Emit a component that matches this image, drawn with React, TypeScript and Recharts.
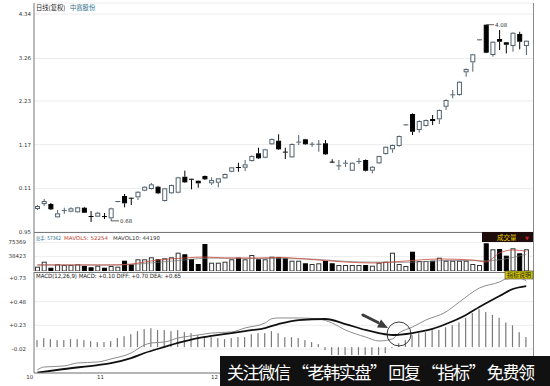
import React from 'react';
import { ComposedChart, Bar, Line, XAxis, YAxis, CartesianGrid, ReferenceDot } from 'recharts';

const FONT = '"DejaVu Sans", "Noto Sans CJK SC", sans-serif';
const CJK = '"Noto Sans CJK SC", sans-serif';

// ---- price candles (74 trading days) ----
const opens = [
  -0.392, -0.271, -0.271, -0.594, -0.44, -0.458, -0.473, -0.361, -0.575, -0.579,
  -0.575, -0.618, -0.22, -0.077, -0.13, -0.108, 0.052, 0.093, 0.149, -0.198,
  -0.011, 0.003, 0.391, 0.33, 0.294, 0.408, 0.231, 0.246, 0.352, 0.512,
  0.615, 0.61, 0.772, 0.959, 0.852, 1.178, 1.265, 0.988, 0.862, 1.221,
  1.299, 1.175, 1.175, 1.202, 0.745, 0.647, 0.712, 0.537, 0.75, 0.797,
  0.537, 0.716, 0.942, 1.056, 1.136, 1.642, 1.913, 1.525, 1.622, 1.792,
  1.784, 2.09, 2.37, 2.374, 2.925, 3.168, 3.705, 4.08, 3.345, 3.733,
  3.653, 3.563, 3.855, 3.563,
];
const closes = [
  -0.32, -0.198, -0.4, -0.497, -0.43, -0.375, -0.351, -0.482, -0.583, -0.482,
  -0.583, -0.375, -0.21, -0.254, -0.135, 0.027, 0.149, 0.207, -0.011, 0.11,
  0.19, 0.377, 0.255, 0.325, 0.231, 0.328, 0.311, 0.352, 0.457, 0.619,
  0.605, 0.692, 0.893, 0.838, 1.056, 1.306, 1.056, 0.978, 1.185, 1.231,
  1.178, 1.18, 1.18, 0.935, 0.737, 0.655, 0.72, 0.731, 0.76, 0.537,
  0.634, 0.893, 1.119, 1.161, 1.379, 1.65, 1.484, 1.743, 1.767, 1.743,
  2.01, 2.253, 2.378, 2.697, 3.005, 3.362, 3.713, 3.401, 3.668, 3.668,
  3.595, 3.886, 3.668, 3.692,
];
const highs = [
  -0.295, -0.15, -0.247, -0.417, -0.36, -0.35, -0.34, -0.34, -0.441, -0.46,
  -0.49, -0.36, -0.2, -0.028, -0.12, 0.04, 0.16, 0.24, 0.17, 0.12,
  0.2, 0.39, 0.537, 0.34, 0.3, 0.42, 0.377, 0.36, 0.47, 0.63,
  0.731, 0.797, 0.91, 1.095, 1.07, 1.32, 1.42, 1.095, 1.2, 1.403,
  1.31, 1.234, 1.282, 1.282, 0.814, 0.797, 0.797, 0.74, 0.845, 0.81,
  0.65, 0.9, 1.13, 1.17, 1.39, 1.66, 1.93, 1.76, 1.78, 1.889,
  2.02, 2.27, 2.496, 2.71, 3.02, 3.375, 3.72, 4.08, 3.68, 3.952,
  3.66, 3.9, 3.91, 3.7,
];
const lows = [
  -0.417, -0.32, -0.417, -0.6, -0.51, -0.47, -0.48, -0.49, -0.708, -0.59,
  -0.635, -0.68, -0.23, -0.351, -0.295, -0.174, 0.04, 0.08, -0.03, -0.21,
  -0.02, -0.01, 0.24, 0.086, 0.125, 0.31, 0.19, 0.134, 0.34, 0.5,
  0.512, 0.53, 0.76, 0.82, 0.84, 1.165, 1.04, 0.821, 0.85, 1.161,
  1.165, 1.112, 0.998, 0.92, 0.73, 0.554, 0.627, 0.53, 0.699, 0.52,
  0.474, 0.7, 0.93, 0.974, 1.12, 1.63, 1.403, 1.459, 1.61, 1.646,
  1.67, 2.01, 2.294, 2.36, 2.818, 2.94, 3.7, 3.39, 3.304, 3.466,
  3.386, 3.425, 3.483, 3.345,
];

// ---- volume ----
const volumes = [
  11350, 24540, 8710, 17680, 15830, 15830, 17680, 13200, 9760, 13990,
  8710, 13200, 11350, 27180, 17680, 30880, 30880, 36150, 30880, 33510,
  36150, 48290, 44070, 31670, 18470, 71250, 21900, 21900, 24540, 30880,
  35100, 30880, 42220, 30880, 30880, 37740, 36150, 33510, 27180, 27180,
  20320, 18470, 20320, 26390, 20320, 15830, 15830, 15830, 15830, 15830,
  13990, 21900, 24540, 48290, 18470, 13200, 50930, 26390, 26390, 27180,
  35100, 27180, 27180, 27180, 27180, 18470, 15830, 73100, 57270, 58060,
  40380, 59910, 46710, 57362,
];
const mavol5Points: [number, number][] = [
  [0, 15830], [5, 15830], [11, 15830], [14, 18470], [18, 29030], [22, 34310],
  [25, 36950], [28, 34310], [33, 34310], [36, 36150], [40, 31670], [46, 23750],
  [50, 21110], [55, 26390], [60, 31670], [65, 29030], [67, 23750], [69, 47500],
  [71, 55420], [73, 52254],
];
const mavol10Points: [number, number][] = [
  [0, 16000], [12, 16000], [20, 26000], [26, 34000], [33, 33000], [40, 32000],
  [48, 24000], [55, 23000], [62, 28000], [67, 27000], [73, 44190],
];

// ---- MACD ----
const macdHist = [
  0.074, 0.095, 0.084, 0.074, 0.074, 0.084, 0.084, 0.074, 0.063, 0.053,
  0.053, 0.063, 0.095, 0.116, 0.137, 0.169, 0.19, 0.2, 0.18, 0.18,
  0.169, 0.18, 0.158, 0.148, 0.127, 0.116, 0.106, 0.095, 0.084, 0.095,
  0.106, 0.106, 0.137, 0.148, 0.148, 0.169, 0.148, 0.106, 0.106, 0.095,
  0.074, 0.053, 0.032, -0.032, -0.084, -0.084, -0.084, -0.084, -0.084, -0.084,
  -0.084, -0.084, -0.063, -0.01, 0.042, 0.074, 0.127, 0.148, 0.158, 0.18,
  0.18, 0.21, 0.23, 0.26, 0.31, 0.36, 0.4, 0.37, 0.34, 0.31,
  0.26, 0.23, 0.158, 0.106,
];
const diffPoints: [number, number][] = [
  [0, -0.24], [1, -0.21], [4, -0.199], [6, -0.167], [9, -0.157], [11, -0.125],
  [14, -0.062], [16, 0.023], [17, 0.044], [19, 0.054], [21, 0.096], [24, 0.128],
  [26, 0.149], [29, 0.16], [31, 0.202], [34, 0.255], [35, 0.3], [36, 0.308],
  [39, 0.308], [42, 0.297], [44, 0.255], [46, 0.181], [49, 0.107], [51, 0.065],
  [53, 0.086], [54, 0.149], [56, 0.212], [58, 0.286], [61, 0.371], [63, 0.476],
  [66, 0.624], [69, 0.688], [70, 0.72], [72, 0.73], [73, 0.7],
];
const deaPoints: [number, number][] = [
  [0, -0.27], [4, -0.231], [9, -0.189], [11, -0.168], [14, -0.115], [16, -0.062],
  [19, 0.002], [21, 0.044], [24, 0.096], [26, 0.118], [29, 0.149], [31, 0.17],
  [34, 0.202], [36, 0.244], [39, 0.286], [43, 0.297], [46, 0.244], [49, 0.181],
  [51, 0.149], [53, 0.128], [56, 0.149], [59, 0.192], [61, 0.244], [64, 0.34],
  [66, 0.424], [69, 0.54], [71, 0.614], [73, 0.645],
];

// ---- axis labels & header texts ----
const priceTicks = [4.34, 3.26, 2.23, 1.17, 0.11, -0.95];
const priceTickLabels = ['4.34', '3.26', '2.23', '1.17', '0.11', '0.95'];
const volTicks = [75369, 38423];
const macdTicks = [0.73, 0.48, 0.23, -0.02];
const macdTickLabels = ['+0.73', '+0.48', '+0.23', '-0.02'];
const monthTickIdx = [0, 9, 26];
const monthLabels = ['10', '11', '12'];
const lowMark = { idx: 11, value: -0.68, label: '0.68' };
const highMark = { idx: 67, value: 4.08, label: '4.08' };
const crossMark = { idx: 54, value: 0.139 };
const volHeader = ['总手: 57362', 'MAVOL5: 52254', 'MAVOL10: 44190'];
const macdHeader = 'MACD(12,26,9) MACD: +0.10 DIFF: +0.70 DEA: +0.65';

const lookup = (pts: [number, number][]) => {
  const m = new Map<number, number>(pts);
  return (i: number) => (m.has(i) ? (m.get(i) as number) : null);
};
const ma5 = lookup(mavol5Points);
const ma10 = lookup(mavol10Points);
const diffAt = lookup(diffPoints);
const deaAt = lookup(deaPoints);

const rows = opens.map((o, i) => ({
  i,
  o,
  c: closes[i],
  h: highs[i],
  l: lows[i],
  range: [lows[i], highs[i]],
  vol: volumes[i],
  ma5: ma5(i),
  ma10: ma10(i),
  hist: macdHist[i],
  diff: diffAt(i),
  dea: deaAt(i),
}));

const UP = '#52626e';

const Candle = (p: any) => {
  const { x, y, width, height, payload } = p;
  if (!payload || height == null) return null;
  const { o, c, h, l } = payload;
  const k = height / (h - l);
  const cx = x + width / 2;
  const yO = y + (h - o) * k;
  const yC = y + (h - c) * k;
  const top = Math.min(yO, yC);
  const bot = Math.max(yO, yC);
  const up = c >= o;
  const col = up ? UP : '#000';
  return (
    <g>
      <line x1={cx} x2={cx} y1={y} y2={top} stroke={col} strokeWidth={1} />
      <line x1={cx} x2={cx} y1={bot} y2={y + height} stroke={col} strokeWidth={1} />
      {bot - top < 1.2 ? (
        <line x1={cx - 2.5} x2={cx + 2.5} y1={top} y2={top} stroke={col} strokeWidth={1} />
      ) : (
        <rect x={cx - 2} y={top + 0.5} width={4} height={bot - top - 1} fill={up ? '#fff' : '#000'} stroke={col} strokeWidth={1} />
      )}
    </g>
  );
};

const VolBar = (p: any) => {
  const { x, y, width, height, payload } = p;
  if (!payload) return null;
  const up = payload.c >= payload.o;
  return (
    <rect x={x + 0.5} y={y + 0.5} width={width - 1} height={Math.max(height - 0.5, 0)} fill={up ? '#fff' : '#000'} stroke={up ? '#333' : '#000'} strokeWidth={1} />
  );
};

const HistBar = (p: any) => {
  const { x, y, width, height } = p;
  const top = Math.min(y, y + height);
  const h = Math.abs(height);
  const cx = x + width / 2;
  return <rect x={cx - 0.6} y={top} width={1.2} height={h} fill="#7a7a7a" />;
};

const MonthTick = (p: any) => {
  const { x, y, payload } = p;
  const k = monthTickIdx.indexOf(payload.value);
  if (k < 0) return <g />;
  return (
    <text x={k === 0 ? x - 4 : x - 0.5} y={y} dy="0.71em" textAnchor={k === 0 ? 'end' : 'start'} fontSize={5.5} fill="#333" fontFamily={FONT}>
      {monthLabels[k]}
    </text>
  );
};

const markShape = (label: string) => (p: any) => (
  <g>
    <line x1={p.cx} x2={p.cx + 8} y1={p.cy} y2={p.cy} stroke="#333" strokeWidth={0.8} />
    <text x={p.cx + 9} y={p.cy} dy="0.35em" fontSize={5.5} fill="#333" fontFamily={FONT}>{label}</text>
  </g>
);

const CrossCallout = (p: any) => {
  const { cx, cy } = p;
  return (
    <g>
      <circle cx={cx} cy={cy} r={12} fill="none" stroke="#222" strokeWidth={0.9} />
      <line x1={cx - 36} y1={cy - 19} x2={cx - 21} y2={cy - 11.5} stroke="#3d3d3d" strokeWidth={3} strokeLinecap="round" />
      <polygon points={`${cx - 11},${cy - 6} ${cx - 22},${cy - 6.5} ${cx - 18},${cy - 14.5}`} fill="#3d3d3d" />
    </g>
  );
};

const tickStyle = { fontSize: 5.5, fill: '#333', fontFamily: FONT };
const XPAD = { left: 0, right: 3.4 };

export default function App() {
  return (
    <div style={{ position: 'absolute', left: 0, top: 0, width: 550, height: 386, background: '#fff', overflow: 'hidden' }}>
      <div style={{ position: 'absolute', left: 0, top: 0 }}>
        <ComposedChart width={550} height={234} data={rows} margin={{ top: 3, right: 17, bottom: 2, left: 0 }}>
          <CartesianGrid vertical={false} stroke="#ececec" />
          <XAxis dataKey="i" hide padding={XPAD} />
          <YAxis
            domain={[-0.95, 4.607]}
            allowDataOverflow
            ticks={priceTicks}
            interval={0}
            tickFormatter={(v: number) => priceTickLabels[priceTicks.indexOf(v)] ?? ''}
            width={34}
            axisLine={{ stroke: '#777' }}
            tickLine={false}
            tickSize={0}
            tickMargin={3}
            tick={tickStyle}
          />
          <Bar dataKey="range" barSize={5} shape={<Candle />} isAnimationActive={false} />
          <ReferenceDot x={lowMark.idx} y={lowMark.value} r={0} shape={markShape(lowMark.label)} />
          <ReferenceDot x={highMark.idx} y={highMark.value} r={0} shape={markShape(highMark.label)} />
        </ComposedChart>
      </div>

      <div style={{ position: 'absolute', left: 0, top: 232 }}>
        <ComposedChart width={550} height={40} data={rows} margin={{ top: 0, right: 17, bottom: 1, left: 0 }}>
          <CartesianGrid vertical={false} stroke="#efefef" />
          <XAxis dataKey="i" hide padding={XPAD} />
          <YAxis
            domain={[0, 102921]}
            allowDataOverflow
            ticks={volTicks}
            interval={0}
            width={34}
            axisLine={{ stroke: '#777' }}
            tickLine={false}
            tickSize={0}
            tickMargin={8}
            tick={tickStyle}
          />
          <Bar dataKey="vol" barSize={5} shape={<VolBar />} isAnimationActive={false} />
          <Line dataKey="ma10" type="monotone" stroke="#777" strokeWidth={0.7} dot={false} connectNulls isAnimationActive={false} />
          <Line dataKey="ma5" type="monotone" stroke="#c9473a" strokeWidth={0.8} dot={false} connectNulls isAnimationActive={false} />
        </ComposedChart>
      </div>

      <div style={{ position: 'absolute', left: 0, top: 272 }}>
        <ComposedChart width={550} height={114} data={rows} margin={{ top: 0, right: 17, bottom: 0, left: 0 }}>
          <CartesianGrid vertical={false} stroke="#ececec" />
          <XAxis
            dataKey="i"
            height={13}
            padding={XPAD}
            axisLine={{ stroke: '#777' }}
            tickLine={false}
            tickSize={0}
            tickMargin={2}
            interval={0}
            tick={<MonthTick />}
          />
          <YAxis
            domain={[-0.2732, 0.7934]}
            allowDataOverflow
            ticks={macdTicks}
            interval={0}
            tickFormatter={(v: number) => macdTickLabels[macdTicks.indexOf(v)] ?? ''}
            width={34}
            axisLine={{ stroke: '#777' }}
            tickLine={false}
            tickSize={0}
            tickMargin={8}
            tick={tickStyle}
          />
          <Bar dataKey="hist" barSize={2} shape={<HistBar />} isAnimationActive={false} />
          <Line dataKey="diff" type="monotone" stroke="#8c8c8c" strokeWidth={1} dot={false} connectNulls isAnimationActive={false} />
          <Line dataKey="dea" type="monotone" stroke="#111" strokeWidth={1.8} dot={false} connectNulls isAnimationActive={false} />
          <ReferenceDot x={crossMark.idx} y={crossMark.value} r={12} shape={<CrossCallout />} />
        </ComposedChart>
      </div>

      <svg width={550} height={386} style={{ position: 'absolute', left: 0, top: 0, pointerEvents: 'none' }}>
        <line x1={34} x2={533} y1={232.5} y2={232.5} stroke="#777" strokeWidth={1} />
        <line x1={34} x2={533} y1={272.5} y2={272.5} stroke="#777" strokeWidth={1} />
        <line x1={533.5} x2={533.5} y1={3} y2={373} stroke="#8a8a8a" strokeWidth={1} />

        <text x={36} y={10} fontSize={6.3} fill="#222" fontFamily={CJK}>日线(复权)</text>
        <text x={70} y={10} fontSize={6.3} fill="#2a6d8c" fontFamily={CJK}>中赛股份</text>

        <text x={36} y={240.3} fontSize={5} fill="#2a6d8c" fontFamily={FONT} textLength={25} lengthAdjust="spacingAndGlyphs">{volHeader[0]}</text>
        <text x={64} y={240.3} fontSize={5.3} fill="#c0392b" fontFamily={FONT} textLength={44} lengthAdjust="spacingAndGlyphs">{volHeader[1]}</text>
        <text x={113} y={240.3} fontSize={5.3} fill="#333" fontFamily={FONT} textLength={47} lengthAdjust="spacingAndGlyphs">{volHeader[2]}</text>
        <text x={36} y={278.2} fontSize={5.8} fill="#222" fontFamily={FONT} textLength={145} lengthAdjust="spacingAndGlyphs">{macdHeader}</text>

        <rect x={482} y={232} width={51} height={10} fill="#1e0c0c" />
        <text x={497} y={239.8} fontSize={6.5} fill="#e6d200" fontFamily={CJK}>成交量</text>
        <text x={525} y={239.5} fontSize={5} fill="#d02020" fontFamily={FONT}>▼</text>

        <rect x={505} y={271} width={28} height={8} fill="#cfc200" stroke="#444" strokeWidth={0.6} />
        <text x={519} y={277.4} textAnchor="middle" fontSize={6} fill="#222" fontFamily={CJK}>指标说明</text>

        <rect x={220} y={356} width={330} height={30} fill="#111" />
        <text x={227} y={379} fontSize={17} fill="#fff" fontFamily={CJK} textLength={308} lengthAdjust="spacing">
          关注微信 “老韩实盘” 回复 “指标” 免费领
        </text>
      </svg>
    </div>
  );
}
